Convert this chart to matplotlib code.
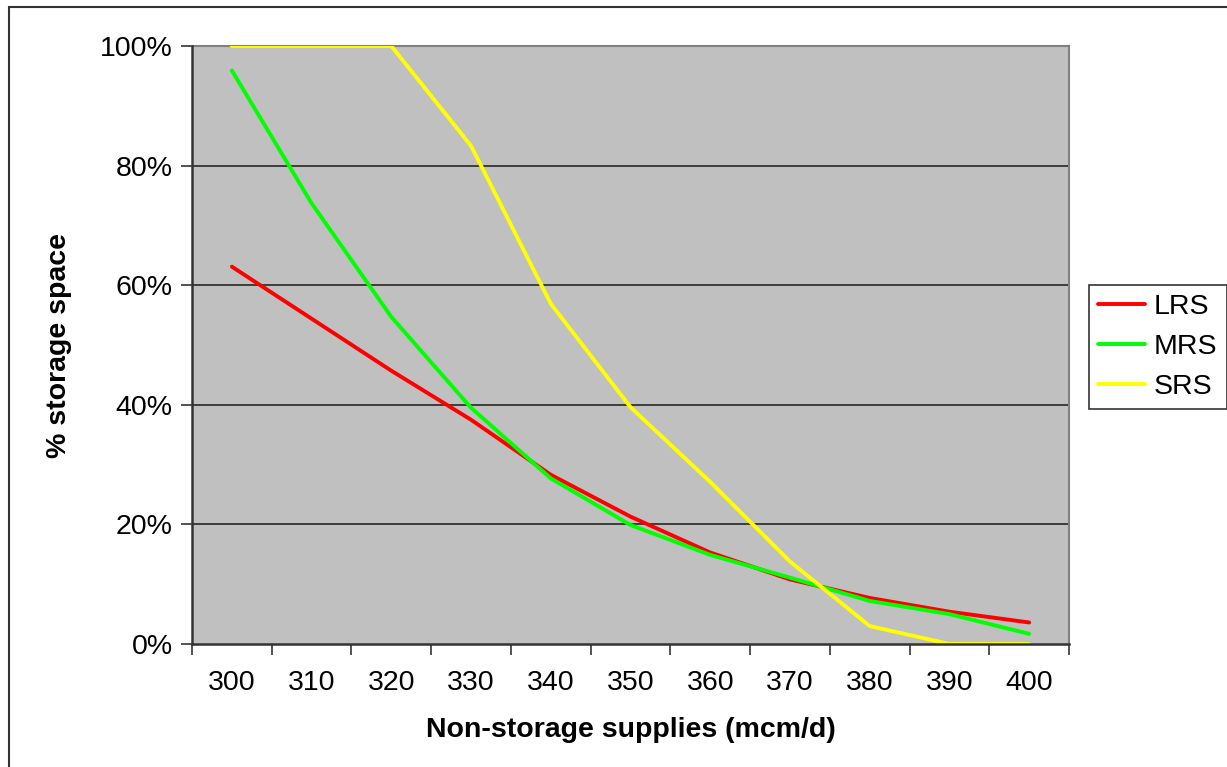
import matplotlib
matplotlib.use("Agg")
import matplotlib.pyplot as plt
import matplotlib.patches as mpatches
import numpy as np

plt.rcParams["font.family"] = ["Liberation Sans", "DejaVu Sans"]

# Non-storage supply levels (mcm/d) and share of storage space needed
supplies = [300, 310, 320, 330, 340, 350, 360, 370, 380, 390, 400]
lrs = [63.1, 54.4, 45.7, 37.5, 28.3, 21.3, 15.3, 10.8, 7.7, 5.4, 3.6]
mrs = [95.9, 73.7, 54.7, 39.5, 27.7, 19.9, 14.9, 11.1, 7.2, 5.0, 1.7]
srs = [100.0, 100.0, 100.0, 83.3, 56.9, 39.6, 27.1, 13.8, 3.0, 0.0, 0.0]

series = [("LRS", lrs, "#FF0000"), ("MRS", mrs, "#00FF00"), ("SRS", srs, "#FFFF00")]

FS = 20.5
LW = 2.8

W, H = 1227, 767
fig = plt.figure(figsize=(W / 100, H / 100), dpi=100)
ax = fig.add_axes([192 / W, 1 - 644 / H, 877 / W, 598 / H])
ax.set_facecolor("#C0C0C0")

x = np.arange(len(supplies))
for name, vals, col in series:
    ax.plot(x, vals, color=col, lw=LW, label=name, solid_capstyle="round", zorder=3)

# category axis: ticks sit between categories
ax.set_xlim(-0.5, len(supplies) - 0.5)
ax.set_xticks(np.arange(len(supplies) + 1) - 0.5)
ax.set_xticklabels([])
ax.set_xticks(x, minor=True)
ax.set_xticklabels([str(s) for s in supplies], minor=True)
ax.tick_params(axis="x", which="major", length=8, width=1.2, color="#333333", direction="out")
ax.tick_params(axis="x", which="minor", length=0, pad=19, labelsize=FS)

ax.set_ylim(0, 100)
ax.set_yticks(range(0, 101, 20))
ax.set_yticklabels([f"{v}%" for v in range(0, 101, 20)])
ax.tick_params(axis="y", length=8, width=1.2, color="#333333", labelsize=FS, pad=6)

for v in range(20, 100, 20):
    ax.axhline(v, color="#1a1a1a", lw=1.1, zorder=1)

for side in ("top", "right"):
    ax.spines[side].set_color("#808080")
    ax.spines[side].set_linewidth(1.5)
for side in ("left", "bottom"):
    ax.spines[side].set_color("#333333")
    ax.spines[side].set_linewidth(1.8)
    ax.spines[side].set_zorder(4)

ax.set_xlabel("Non-storage supplies (mcm/d)", fontsize=FS, fontweight="bold", labelpad=15)
ax.set_ylabel("% storage space", fontsize=FS, fontweight="bold", labelpad=20)

leg = fig.legend(loc="upper left", bbox_to_anchor=(1089 / W, 1 - 285 / H),
                 fontsize=FS, frameon=True, fancybox=False, edgecolor="black",
                 handlelength=1.65, handletextpad=0.3, labelspacing=0.48,
                 borderpad=0.33, borderaxespad=0)
leg.get_frame().set_linewidth(1.2)
for line in leg.get_lines():
    line.set_linewidth(LW)

# chart area border
fig.patches.append(mpatches.Rectangle((9 / W, -0.05), 1.1, 1 - 7 / H + 0.05,
                                      transform=fig.transFigure, fill=False,
                                      edgecolor="#333333", lw=1.5))

fig.savefig("out.png", dpi=100)
